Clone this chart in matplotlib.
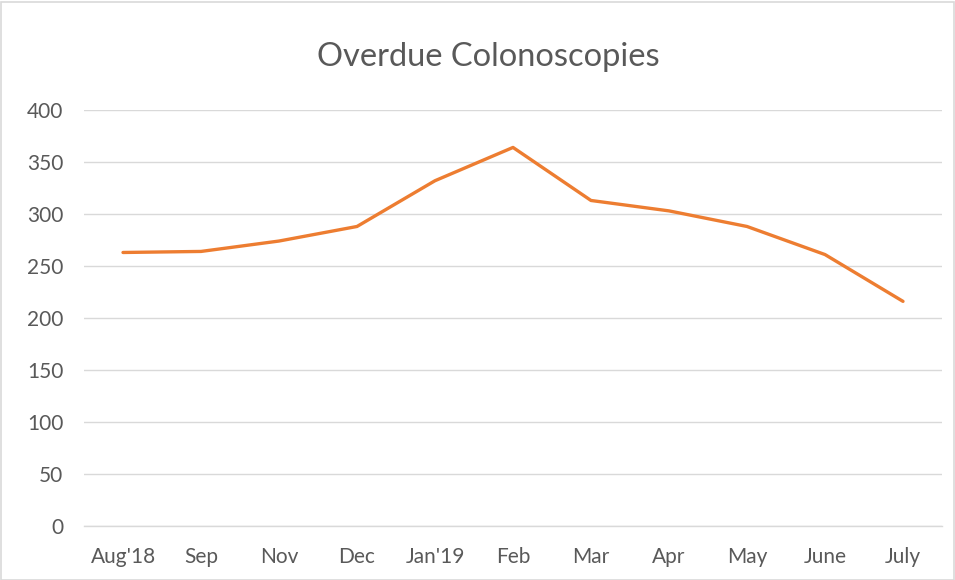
import matplotlib
matplotlib.use("Agg")
import matplotlib.pyplot as plt
from matplotlib.patches import Rectangle

categories = ["Aug'18", "Sep", "Nov", "Dec", "Jan'19", "Feb", "Mar", "Apr", "May", "June", "July"]
values = [263, 264, 274, 288, 332, 364, 313, 303, 288, 261, 216]
yticks = [0, 50, 100, 150, 200, 250, 300, 350, 400]
title = "Overdue Colonoscopies"

plt.rcParams['font.family'] = ['Lato', 'DejaVu Sans']

fig = plt.figure(figsize=(9.55, 5.8), dpi=100)
fig.patch.set_facecolor('white')
fig.add_artist(Rectangle((0.5/955, 0.5/580), 1 - 2/955, 1 - 2/580, transform=fig.transFigure,
                         fill=False, edgecolor='#D9D9D9', linewidth=1.2))

ax = fig.add_axes([84/955, 1 - 526/580, (942 - 84)/955, (526 - 110)/580])
x = list(range(len(categories)))
ax.plot(x, values, color='#ED7D31', linewidth=2.4, solid_joinstyle='round', solid_capstyle='round')

ax.set_xlim(-0.5, len(categories) - 0.5)
ax.set_ylim(0, 400)
ax.set_yticks(yticks)
ax.set_xticks(x)
ax.set_xticklabels(categories)
ax.grid(axis='y', color='#D9D9D9', linewidth=1.0)
ax.set_axisbelow(True)
for s in ['top', 'right', 'left']:
    ax.spines[s].set_visible(False)
ax.spines['bottom'].set_color('#D9D9D9')
ax.spines['bottom'].set_linewidth(1.0)
ax.tick_params(axis='both', length=0, labelsize=15, colors='#595959')
ax.tick_params(axis='y', pad=15)
ax.tick_params(axis='x', pad=15)

fig.text(488/955, 1 - 57/580, title, ha='center', va='center', fontsize=23.5, color='#595959')

fig.savefig("out.png", dpi=100, facecolor='white')
